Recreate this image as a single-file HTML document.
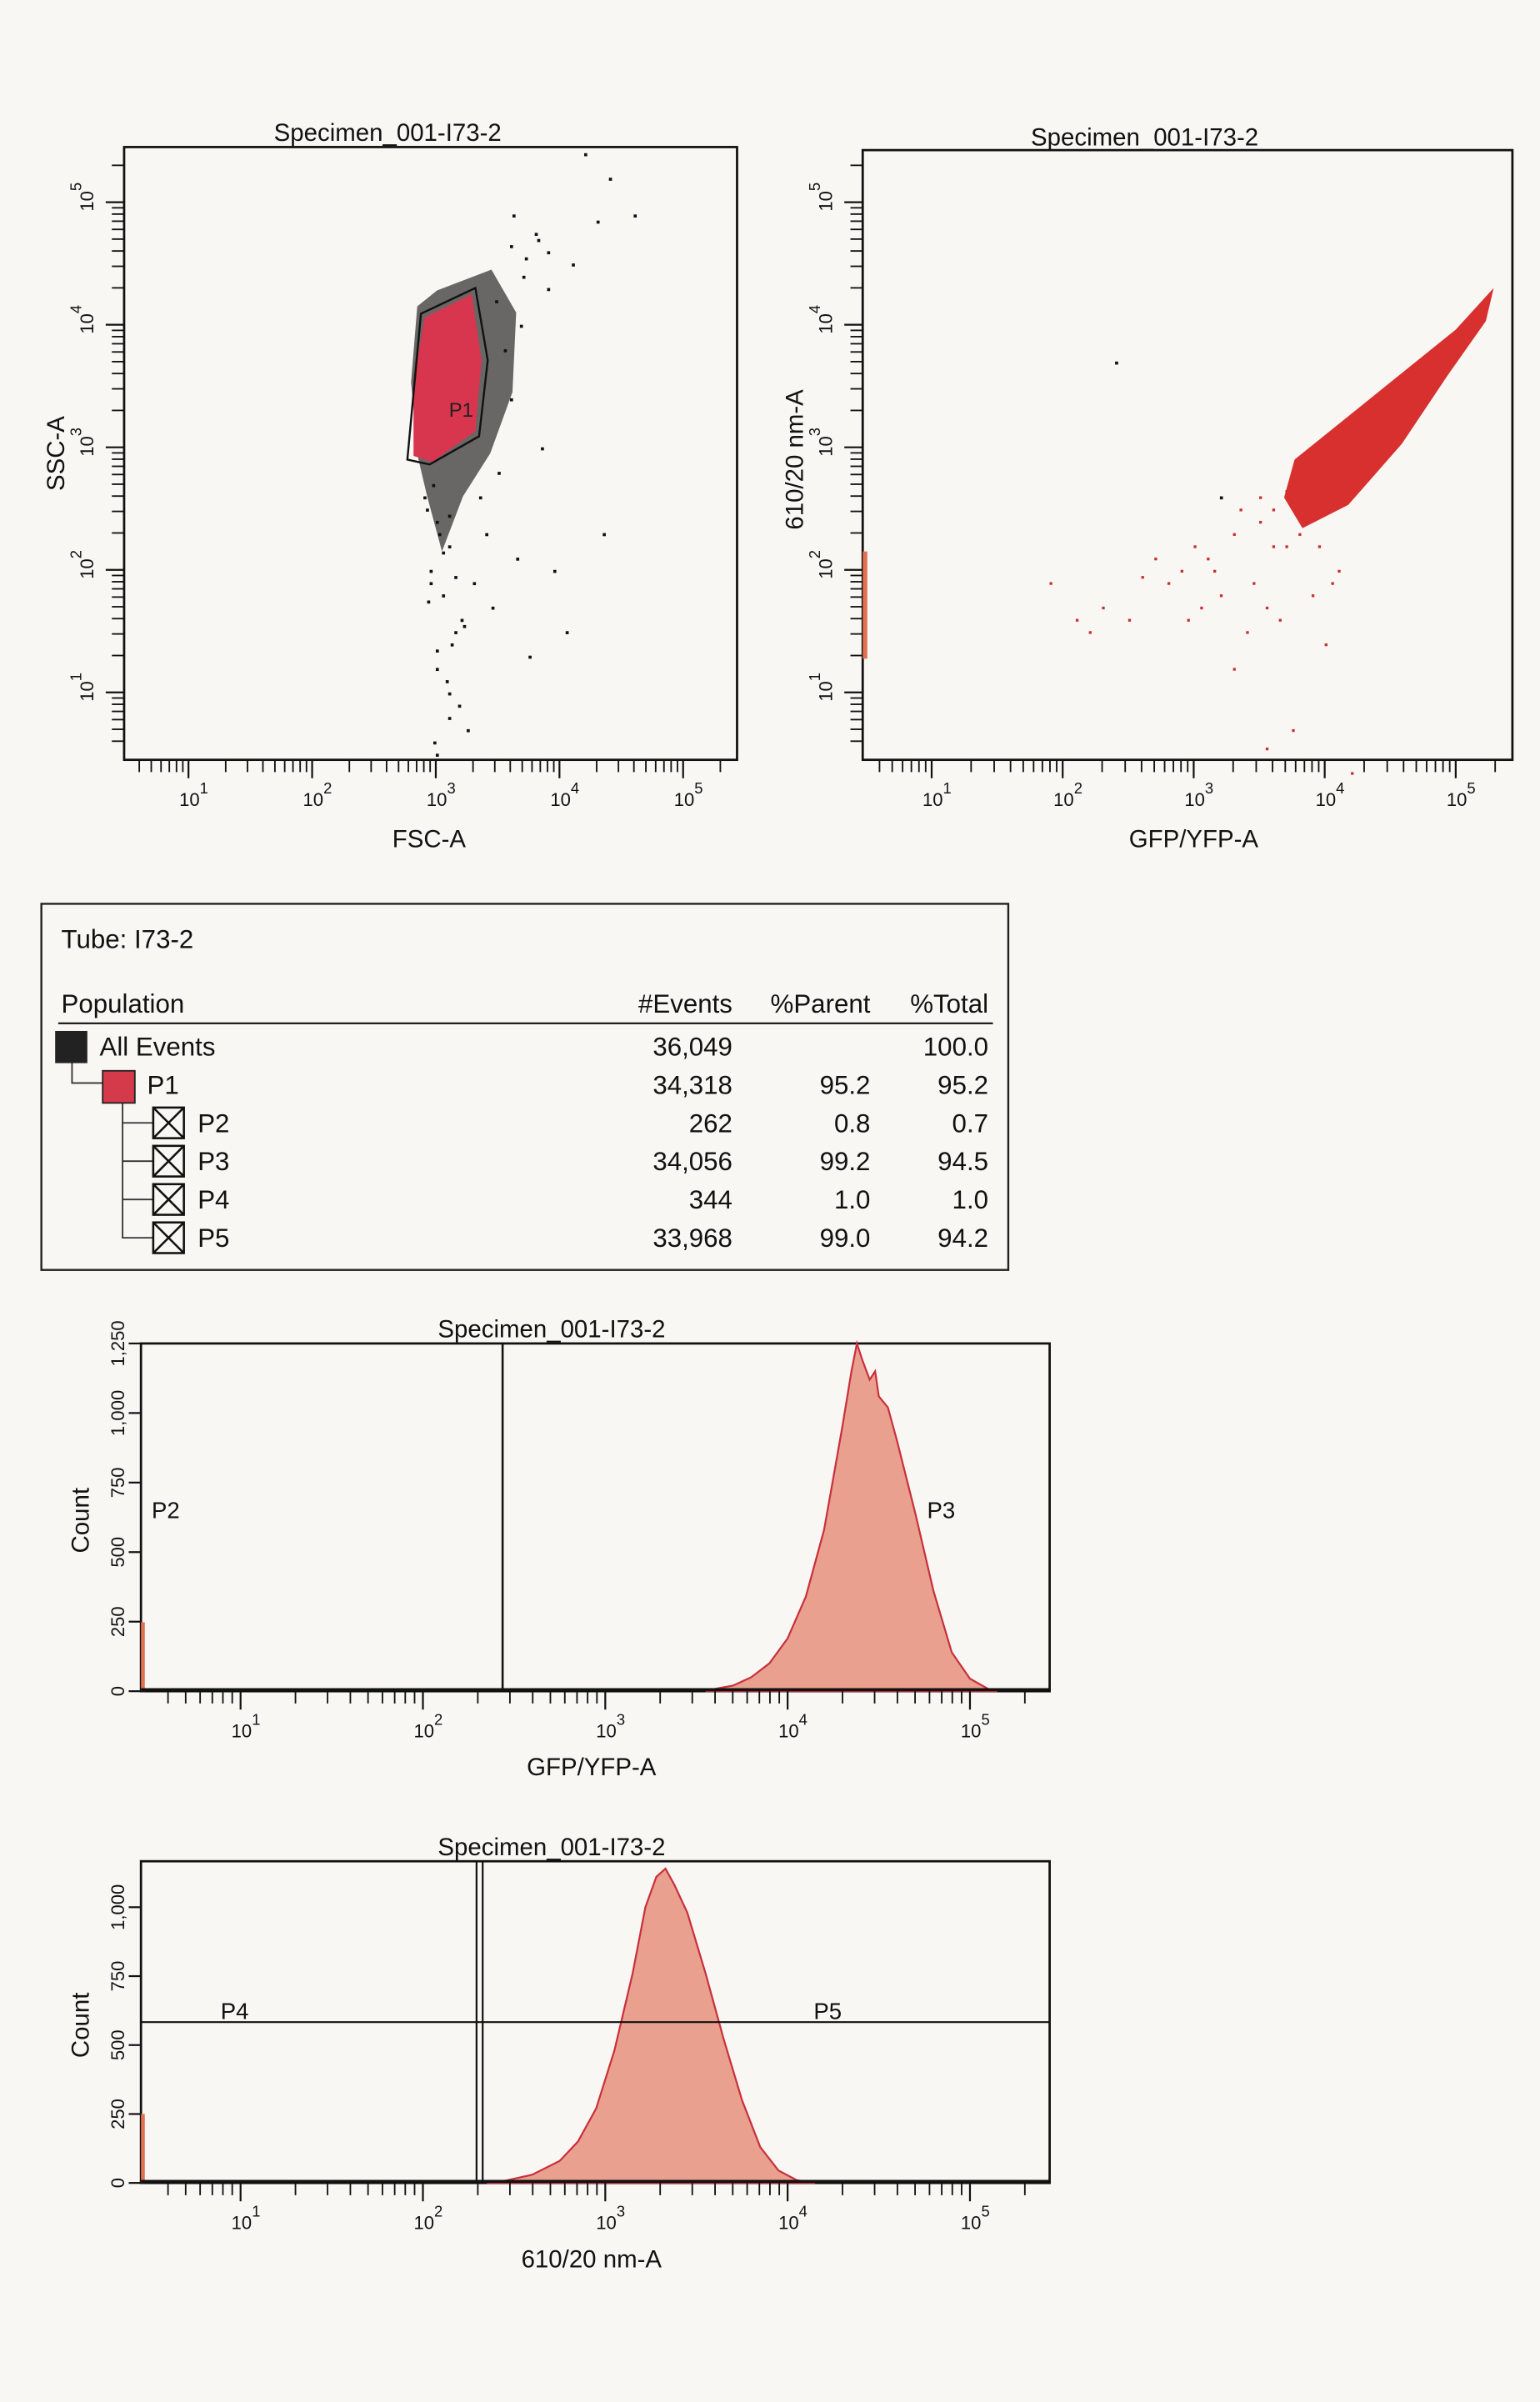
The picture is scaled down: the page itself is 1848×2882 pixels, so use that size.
<!DOCTYPE html>
<html><head><meta charset="utf-8"><style>
html,body{margin:0;padding:0;background:#f8f7f4;}
svg{display:block;font-family:"Liberation Sans",Arial,sans-serif;}
</style></head><body>
<svg id="s" width="1848" height="2882" viewBox="0 0 1005 1568" preserveAspectRatio="none" xmlns="http://www.w3.org/2000/svg">
<rect x="0" y="0" width="1005" height="1568" fill="#f8f7f4"/>
</svg>
<script>
// ---------- DATA ----------
const gateP1X = [2.88, 3.32, 3.42, 3.35, 2.95, 2.77];
const gateP1Y = [4.09, 4.30, 3.71, 3.09, 2.86, 2.90];
const p1RedCloudX = [2.91, 3.29, 3.37, 3.32, 2.97, 2.82, 2.82];
const p1RedCloudY = [4.06, 4.25, 3.71, 3.13, 2.88, 2.93, 3.53];
const p1BlackCloudX = [3.01, 3.45, 3.65, 3.62, 3.44, 3.22, 3.05, 2.93, 2.86, 2.80, 2.85];
const p1BlackCloudY = [4.28, 4.45, 4.10, 3.45, 2.95, 2.60, 2.15, 2.60, 2.90, 3.53, 4.15];
const p1DotsX = [3.0,3.1,2.95,3.05,3.2,2.9,3.15,3.0,3.1,3.25,2.98,3.4,3.6,3.7,3.8,3.55,3.9,4.1,4.3,4.4,4.2,3.3,3.5,3.65,2.92,3.02,3.12,2.97,3.08,3.18,3.45,3.75,3.95,4.05,3.35,3.0,3.1,2.95,4.6,4.35,3.85,3.62,3.28,3.48,3.05,3.15,2.93,3.22,3.0,3.1,3.6,3.72,3.82,3.9,3.68];
const p1DotsY = [2.4,2.2,2.0,1.8,1.6,2.6,1.5,1.2,1.0,0.7,0.6,2.3,3.4,4.4,4.75,3.8,4.6,4.5,4.85,5.2,5.4,1.9,2.8,2.1,2.5,2.3,1.4,2.7,1.1,0.9,1.7,1.3,2.0,1.5,2.6,0.5,0.8,1.9,4.9,2.3,3.0,4.9,3.9,4.2,2.15,1.95,1.75,1.55,1.35,2.45,4.65,4.55,4.7,4.3,4.0];
const p2CloudX = [3.77, 4.42, 5.00, 5.29, 5.23, 4.94, 4.59, 4.18, 3.83, 3.69];
const p2CloudY = [2.90, 3.46, 3.96, 4.30, 4.03, 3.59, 3.03, 2.53, 2.34, 2.59];
const p2DotsX = [2.9,3.1,3.3,3.5,3.6,3.2,2.8,2.5,2.3,3.4,3.55,3.7,3.0,2.7,3.45,3.65,4.0,4.1,3.9,3.3,2.2,3.8,3.35,2.95,3.15,3.6,1.9,2.1,2.6,3.05,3.75,4.2,3.55,3.5,3.85,3.95,4.05,3.7];
const p2DotsY = [2.0,2.1,2.3,2.4,2.2,1.8,1.9,1.6,1.7,1.5,1.7,2.2,2.2,2.1,1.9,1.6,1.4,2.0,1.8,1.2,1.5,2.3,2.5,1.6,2.0,2.5,1.9,1.6,1.95,1.7,0.7,0.35,0.55,2.6,2.4,2.2,1.9,2.65];
const p2BlackX = [2.40, 3.20];
const p2BlackY = [3.70, 2.60];
const h1Log = [3.55,3.6,3.7,3.8,3.9,4.0,4.1,4.2,4.3,4.35,4.38,4.41,4.45,4.48,4.5,4.55,4.6,4.7,4.8,4.9,5.0,5.1,5.15];
const h1Count = [0,8,20,50,100,190,340,580,950,1150,1250,1190,1120,1150,1060,1020,900,640,360,140,45,8,0];
const h2Log = [2.35,2.45,2.6,2.75,2.85,2.95,3.05,3.15,3.22,3.28,3.33,3.38,3.45,3.55,3.65,3.75,3.85,3.95,4.05,4.15];
const h2Count = [0,8,30,80,150,270,480,760,1000,1110,1140,1080,980,760,520,300,130,45,10,0];
const popNames = ["All Events","P1","P2","P3","P4","P5"];
const popEvents = ["36,049","34,318","262","34,056","344","33,968"];
const popParent = ["","95.2","0.8","99.2","1.0","99.0"];
const popTotal = ["100.0","95.2","0.7","94.5","1.0","94.2"];

// ---------- HELPERS ----------
const NS="http://www.w3.org/2000/svg";
const S=document.getElementById('s');
function el(tag,attrs,parent,txt){const e=document.createElementNS(NS,tag);for(const k in attrs)e.setAttribute(k,attrs[k]);if(txt!==undefined)e.textContent=txt;(parent||S).appendChild(e);return e;}
function logAxisX(g,x0,pxPerDec,xMin,xMax,yBase,name){
  for(let d=0;d<=5;d++){for(let m=1;m<=9;m++){const v=d+Math.log10(m);const x=x0+(v-1)*pxPerDec;if(x<xMin||x>xMax)continue;
    el('line',{x1:x,y1:yBase,x2:x,y2:yBase+(m===1?12:8),stroke:'#111','stroke-width':m===1?1.2:1},g);}
    const xx=x0+(d-1)*pxPerDec; if(d>=1&&xx<=xMax){const t=el('text',{x:xx-6,y:yBase+30,'font-size':12,fill:'#111'},g);
      
      t.textContent='10';el('tspan',{dy:-8,'font-size':10},t,String(d));}}
}
function logAxisY(g,y0,pxPerDec,yMin,yMax,xBase,name){
  for(let d=0;d<=5;d++){for(let m=1;m<=9;m++){const v=d+Math.log10(m);const y=y0-(v-1)*pxPerDec;if(y<yMin||y>yMax)continue;
    el('line',{x1:xBase,y1:y,x2:xBase-(m===1?12:8),y2:y,stroke:'#111','stroke-width':m===1?1.2:1},g);}
    const yy=y0-(d-1)*pxPerDec; if(d>=1&&yy>=yMin){const t=el('text',{transform:`translate(${xBase-20},${yy+6}) rotate(-90)`,'font-size':12,fill:'#111'},g);
      
      t.textContent='10';el('tspan',{dy:-8,'font-size':10},t,String(d));}}
}
function title(x,y,txt){const t=el('text',{x:x,y:y,'font-size':16,'text-anchor':'middle',fill:'#111'},S,txt);}

// ---------- SCATTER 1 ----------
(function(){
  const L=81,T=96,R=481,B=496;
  const X=v=>123+(v-1)*80.7, Y=v=>452-(v-1)*80;
  const g=el('g',{});
  title(253,92,'Specimen_001-I73-2');
  el('rect',{x:L,y:T,width:R-L,height:B-T,fill:'none',stroke:'#111','stroke-width':1.5},g);
  const bc=el('polygon',{points:p1BlackCloudX.map((v,i)=>X(v)+','+Y(p1BlackCloudY[i])).join(' '),fill:'#1a1a1a',opacity:0.65},g);
  
  p1DotsX.forEach((v,i)=>{const c=el('rect',{x:X(v),y:Y(p1DotsY[i]),width:2,height:2,fill:'#111'},g);});
  const rc=el('polygon',{points:p1RedCloudX.map((v,i)=>X(v)+','+Y(p1RedCloudY[i])).join(' '),fill:'#d8354e'},g);
  
  const gp=el('polygon',{points:gateP1X.map((v,i)=>X(v)+','+Y(gateP1Y[i])).join(' '),fill:'none',stroke:'#111','stroke-width':1.3},g);
  
  el('text',{x:293,y:272,'font-size':13,fill:'#222'},g,'P1');
  logAxisX(g,123,80.7,L+4,R,B,'x-axis');
  logAxisY(g,452,80,T,B-4,L,'y-axis');
  const xl=el('text',{x:280,y:553,'font-size':16,'text-anchor':'middle',fill:'#111'},g,'FSC-A');
  const yl=el('text',{transform:'translate(42,296) rotate(-90)','font-size':16,'text-anchor':'middle',fill:'#111'},g,'SSC-A');
})();

// ---------- SCATTER 2 ----------
(function(){
  const L=563,T=98,R=987,B=496;
  const X=v=>608+(v-1)*85.5, Y=v=>452-(v-1)*80;
  const g=el('g',{});
  title(747,95,'Specimen_001-I73-2');
  el('rect',{x:L,y:T,width:R-L,height:B-T,fill:'none',stroke:'#111','stroke-width':1.5},g);
  const c=el('polygon',{points:p2CloudX.map((v,i)=>X(v)+','+Y(p2CloudY[i])).join(' '),fill:'#d8302e'},g);
  
  p2DotsX.forEach((v,i)=>{const d=el('rect',{x:X(v),y:Y(p2DotsY[i]),width:1.8,height:1.8,fill:'#c83030'},g);});
  p2BlackX.forEach((v,i)=>{const d=el('rect',{x:X(v),y:Y(p2BlackY[i]),width:2,height:2,fill:'#111'},g);});
  el('rect',{x:563,y:360,width:3,height:70,fill:'#e07050'},g);
  logAxisX(g,608,85.5,L+4,R,B,'x-axis');
  logAxisY(g,452,80,T,B-4,L,'y-axis');
  const xl=el('text',{x:779,y:553,'font-size':16,'text-anchor':'middle',fill:'#111'},g,'GFP/YFP-A');
  const yl=el('text',{transform:'translate(524,300) rotate(-90)','font-size':16,'text-anchor':'middle',fill:'#111'},g,'610/20 nm-A');
})();

// ---------- TABLE ----------
(function(){
  const g=el('g',{});
  el('rect',{x:27,y:590,width:631,height:239,fill:'none',stroke:'#222','stroke-width':1.3},g);
  el('text',{x:40,y:619,'font-size':17,fill:'#111','xml:space':'preserve'},g,'Tube:   I73-2');
  const hy=661;
  el('text',{x:40,y:hy,'font-size':17,fill:'#111'},g,'Population');
  el('text',{x:478,y:hy,'font-size':17,'text-anchor':'end',fill:'#111'},g,'#Events');
  el('text',{x:568,y:hy,'font-size':17,'text-anchor':'end',fill:'#111'},g,'%Parent');
  el('text',{x:645,y:hy,'font-size':17,'text-anchor':'end',fill:'#111'},g,'%Total');
  el('line',{x1:38,y1:668,x2:648,y2:668,stroke:'#111','stroke-width':1.2},g);
  el('polyline',{points:'47,693 47,707 67,707',fill:'none',stroke:'#333'},g);
  el('polyline',{points:'80,718 80,808 100,808',fill:'none',stroke:'#333'},g);
  [733,758,783].forEach(y=>el('line',{x1:80,y1:y,x2:100,y2:y,stroke:'#333'},g));
  popNames.forEach((n,i)=>{
    const y=683+i*25, ty=y+6;
    let ix, tx;
    if(i===0){ix=36;tx=65;el('rect',{x:ix,y:y-10,width:21,height:21,fill:'#222'},g);}
    else if(i===1){ix=67;tx=96;el('rect',{x:ix,y:y-9,width:21,height:21,fill:'#d43a4a',stroke:'#222'},g);}
    else {ix=100;tx=129;el('rect',{x:ix,y:y-10,width:20,height:20,fill:'none',stroke:'#111','stroke-width':1.4},g);
      el('path',{d:`M${ix} ${y-10}L${ix+20} ${y+10}M${ix+20} ${y-10}L${ix} ${y+10}`,stroke:'#111','stroke-width':1.4},g);}
    const t=el('text',{x:tx,y:ty,'font-size':17,fill:'#111'},g,n);
    el('text',{x:478,y:ty,'font-size':17,'text-anchor':'end',fill:'#111'},g,popEvents[i]);
    el('text',{x:568,y:ty,'font-size':17,'text-anchor':'end',fill:'#111'},g,popParent[i]);
    el('text',{x:645,y:ty,'font-size':17,'text-anchor':'end',fill:'#111'},g,popTotal[i]);
  });
})();

// ---------- HISTOGRAMS ----------
function histogram(opt){
  const {T,B,logs,counts,ticks,titleY,xTitle,name}=opt;
  const L=92,R=685;
  const X=v=>157+(v-1)*119, Y=c=>B-c*opt.pxPerCount;
  const g=el('g',{});
  title(360,titleY,'Specimen_001-I73-2');
  el('rect',{x:L,y:T,width:R-L,height:B-T,fill:'none',stroke:'#111','stroke-width':1.5},g);
  let pts=logs.map((v,i)=>X(v)+','+Y(counts[i])).join(' ');
  const a=el('polygon',{points:X(logs[0])+','+B+' '+pts+' '+X(logs[logs.length-1])+','+B,fill:'#e9a08e',stroke:'#c8303c','stroke-width':1.2},g);
  
  el('rect',{x:92,y:B-45,width:2.5,height:45,fill:'#e07050'},g);
  el('line',{x1:L,y1:B-1,x2:R,y2:B-1,stroke:'#111','stroke-width':2},g);
  ticks.forEach(c=>{const y=Y(c);el('line',{x1:L,y1:y,x2:L-8,y2:y,stroke:'#111','stroke-width':1.2},g);
    const t=el('text',{transform:`translate(${L-11},${y}) rotate(-90)`,'font-size':12,'text-anchor':'middle',fill:'#111'},g,c.toLocaleString('en-US'));
    });
  logAxisX(g,157,119,L+4,R,B,'x-axis');
  const xl=el('text',{x:386,y:B+55,'font-size':16,'text-anchor':'middle',fill:'#111'},g,xTitle);
  const yl=el('text',{transform:`translate(58,${(T+B)/2+2}) rotate(-90)`,'font-size':16,'text-anchor':'middle',fill:'#111'},g,'Count');
  return g;
}
const hg1=histogram({T:877,B:1104,logs:h1Log,counts:h1Count,pxPerCount:227/1250,ticks:[0,250,500,750,1000,1250],titleY:873,xTitle:'GFP/YFP-A',name:'gfp-histogram'});
const gl1=el('line',{x1:328,y1:877,x2:328,y2:1104,stroke:'#111','stroke-width':1.4},hg1);
el('text',{x:99,y:991,'font-size':15,fill:'#111'},hg1,'P2');
el('text',{x:605,y:991,'font-size':15,fill:'#111'},hg1,'P3');

const hg2=histogram({T:1215,B:1425,logs:h2Log,counts:h2Count,pxPerCount:180/1000,ticks:[0,250,500,750,1000],titleY:1211,xTitle:'610/20 nm-A',name:'610-histogram'});
const gl2=el('path',{d:'M311 1215V1425M315 1215V1425',stroke:'#111','stroke-width':1.2},hg2);
const hl=el('line',{x1:92,y1:1320,x2:685,y2:1320,stroke:'#111','stroke-width':1.2},hg2);
el('text',{x:144,y:1318,'font-size':15,fill:'#111'},hg2,'P4');
el('text',{x:531,y:1318,'font-size':15,fill:'#111'},hg2,'P5');
</script>
</body></html>
